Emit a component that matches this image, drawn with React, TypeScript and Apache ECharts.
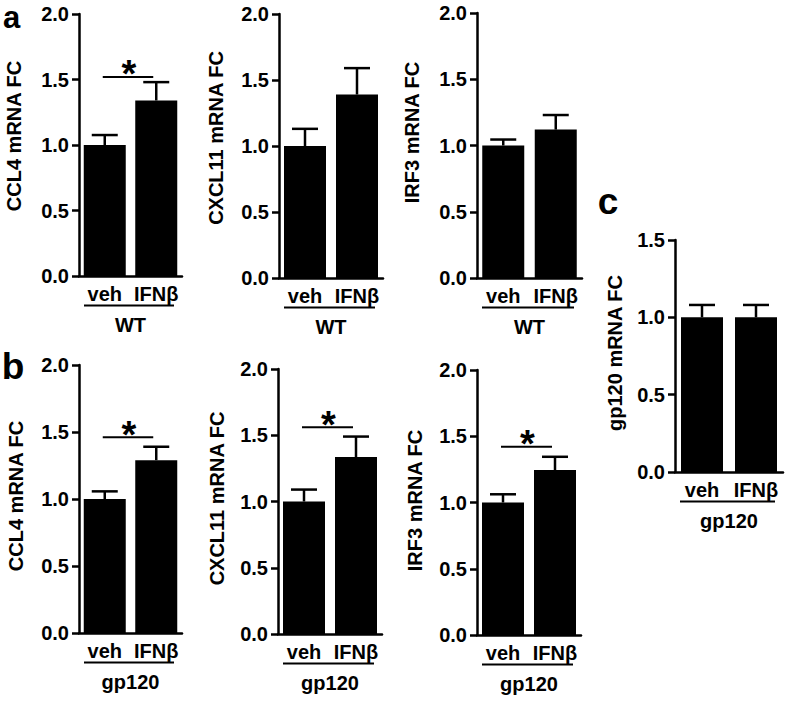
import React, { useEffect, useRef } from "react";
import * as echarts from "echarts";

// ---- data ----
const categories = ["veh", "IFNβ"];

const ccl4WT = [1.0, 1.34];
const ccl4WTErr = [0.076, 0.14];
const ccl4WTSig = 1.52;

const cxcl11WT = [1.0, 1.39];
const cxcl11WTErr = [0.13, 0.2];
const cxcl11WTSig: number | null = null;

const irf3WT = [1.0, 1.12];
const irf3WTErr = [0.045, 0.11];
const irf3WTSig: number | null = null;

const ccl4Gp = [1.0, 1.29];
const ccl4GpErr = [0.057, 0.1];
const ccl4GpSig = 1.46;

const cxcl11Gp = [1.0, 1.335];
const cxcl11GpErr = [0.09, 0.155];
const cxcl11GpSig = 1.56;

const irf3Gp = [1.0, 1.245];
const irf3GpErr = [0.062, 0.1];
const irf3GpSig = 1.42;

const gp120Gp = [1.0, 1.0];
const gp120GpErr = [0.08, 0.08];
const gp120GpSig: number | null = null;

const yTitles = [
  "CCL4 mRNA FC",
  "CXCL11 mRNA FC",
  "IRF3 mRNA FC",
  "CCL4 mRNA FC",
  "CXCL11 mRNA FC",
  "IRF3 mRNA FC",
  "gp120 mRNA FC",
];
const groupLabels = ["WT", "WT", "WT", "gp120", "gp120", "gp120", "gp120"];
const yMaxes = [2, 2, 2, 2, 2, 2, 1.5];
const panelLetters = ["a", "b", "c"];

// ---- layout (positions only) ----
const grids = [
  { left: 79, top: 14, width: 103, height: 262 },
  { left: 279, top: 14, width: 104, height: 264 },
  { left: 477, top: 13, width: 105, height: 265 },
  { left: 79, top: 365, width: 103, height: 268 },
  { left: 278, top: 369, width: 104, height: 265 },
  { left: 477, top: 370, width: 104, height: 265 },
  { left: 675, top: 240, width: 108, height: 232 },
];
const nameGaps = [55, 53, 55, 53, 51, 52, 50];
const nameShifts = [18, 16, 26, 6, 6, 4, 6];
const letterPos = [
  { x: 11.5, y: 17, size: 31 },
  { x: 13, y: 366.8, size: 37 },
  { x: 608, y: 201.6, size: 37 },
];

const FONT = '"Liberation Sans", Arial, Helvetica, sans-serif';

export default function App() {
  const ref = useRef<HTMLDivElement>(null);

  useEffect(() => {
    if (!ref.current) return;
    const chart = echarts.init(ref.current, undefined, { renderer: "svg" });

    const values = [ccl4WT, cxcl11WT, irf3WT, ccl4Gp, cxcl11Gp, irf3Gp, gp120Gp];
    const errs = [ccl4WTErr, cxcl11WTErr, irf3WTErr, ccl4GpErr, cxcl11GpErr, irf3GpErr, gp120GpErr];
    const sigs = [ccl4WTSig, cxcl11WTSig, irf3WTSig, ccl4GpSig, cxcl11GpSig, irf3GpSig, gp120GpSig];

    const grid = grids.map((g) => ({ ...g, containLabel: false }));

    const xAxis = grids.map((_, i) => ({
      type: "category",
      gridIndex: i,
      data: categories,
      boundaryGap: true,
      axisLine: { lineStyle: { color: "#000", width: 2.5 } },
      axisTick: { show: false },
      axisLabel: {
        color: "#000",
        fontFamily: FONT,
        fontWeight: "bold",
        fontSize: 20,
        margin: 8,
        interval: 0,
      },
      name: groupLabels[i],
      nameLocation: "middle",
      nameGap: 39,
      nameTextStyle: { color: "#000", fontFamily: FONT, fontWeight: "bold", fontSize: 20 },
    }));

    const yAxis = grids.map((_, i) => ({
      type: "value",
      gridIndex: i,
      min: 0,
      max: yMaxes[i],
      interval: 0.5,
      axisLine: { show: true, lineStyle: { color: "#000", width: 2.5 } },
      axisTick: { show: true, inside: false, length: 7, lineStyle: { color: "#000", width: 2.5 } },
      splitLine: { show: false },
      axisLabel: {
        color: "#000",
        fontFamily: FONT,
        fontWeight: "bold",
        fontSize: 20,
        margin: 10,
        formatter: (v: number) => v.toFixed(1),
      },
      name: yTitles[i],
      nameLocation: "middle",
      nameRotate: 90,
      nameGap: nameGaps[i],
      nameTextStyle: {
        color: "#000",
        fontFamily: FONT,
        fontWeight: "bold",
        fontSize: 20,
        padding: [0, 0, 0, nameShifts[i]],
      },
    }));

    const series: any[] = [];
    values.forEach((vals, i) => {
      series.push({
        type: "bar",
        xAxisIndex: i,
        yAxisIndex: i,
        data: vals,
        barWidth: 42,
        itemStyle: { color: "#000" },
        z: 2,
      });
      series.push({
        type: "custom",
        xAxisIndex: i,
        yAxisIndex: i,
        encode: { x: 0, y: [1, 2] },
        data: vals.map((v, j) => [j, v, v + errs[i][j]]),
        z: 3,
        renderItem: (_p: any, api: any) => {
          const base = api.coord([api.value(0), api.value(1)]);
          const top = api.coord([api.value(0), api.value(2)]);
          const st = { stroke: "#000", lineWidth: 2.5 };
          return {
            type: "group",
            children: [
              { type: "line", shape: { x1: base[0], y1: base[1], x2: base[0], y2: top[1] }, style: st },
              { type: "line", shape: { x1: base[0] - 13, y1: top[1], x2: base[0] + 13, y2: top[1] }, style: st },
            ],
          };
        },
      });
      const s = sigs[i];
      if (s !== null && s !== undefined) {
        series.push({
          type: "custom",
          xAxisIndex: i,
          yAxisIndex: i,
          encode: { x: 0, y: 2 },
          data: [[0, 1, s]],
          z: 3,
          renderItem: (_p: any, api: any) => {
            const p0 = api.coord([api.value(0), api.value(2)]);
            const p1 = api.coord([api.value(1), api.value(2)]);
            const x1 = p0[0] - 2;
            const x2 = p1[0] - 3;
            return {
              type: "group",
              children: [
                { type: "line", shape: { x1, y1: p0[1], x2, y2: p0[1] }, style: { stroke: "#000", lineWidth: 2 } },
                {
                  type: "text",
                  x: (x1 + x2) / 2 + 1,
                  y: p0[1] - 2.6,
                  style: {
                    text: "*",
                    fill: "#000",
                    font: `bold 38px ${FONT}`,
                    align: "center",
                    verticalAlign: "middle",
                  },
                },
              ],
            };
          },
        });
      }
    });

    const graphic: any[] = [];
    grids.forEach((g) => {
      const y = g.top + g.height + 29.5;
      graphic.push({
        type: "line",
        shape: { x1: g.left + 5, y1: y, x2: g.left + g.width - 8, y2: y },
        style: { stroke: "#000", lineWidth: 2 },
      });
    });
    panelLetters.forEach((l, i) => {
      const p = letterPos[i];
      graphic.push({
        type: "text",
        x: p.x,
        y: p.y,
        style: {
          text: l,
          fill: "#000",
          font: `bold ${p.size}px ${FONT}`,
          align: "center",
          verticalAlign: "middle",
        },
      });
    });

    chart.setOption({
      animation: false,
      backgroundColor: "#fff",
      grid,
      xAxis,
      yAxis,
      series,
      graphic,
    });

    return () => chart.dispose();
  }, []);

  return (
    <div
      ref={ref}
      style={{ position: "fixed", left: 0, top: 0, width: 787, height: 701, background: "#fff" }}
    />
  );
}
